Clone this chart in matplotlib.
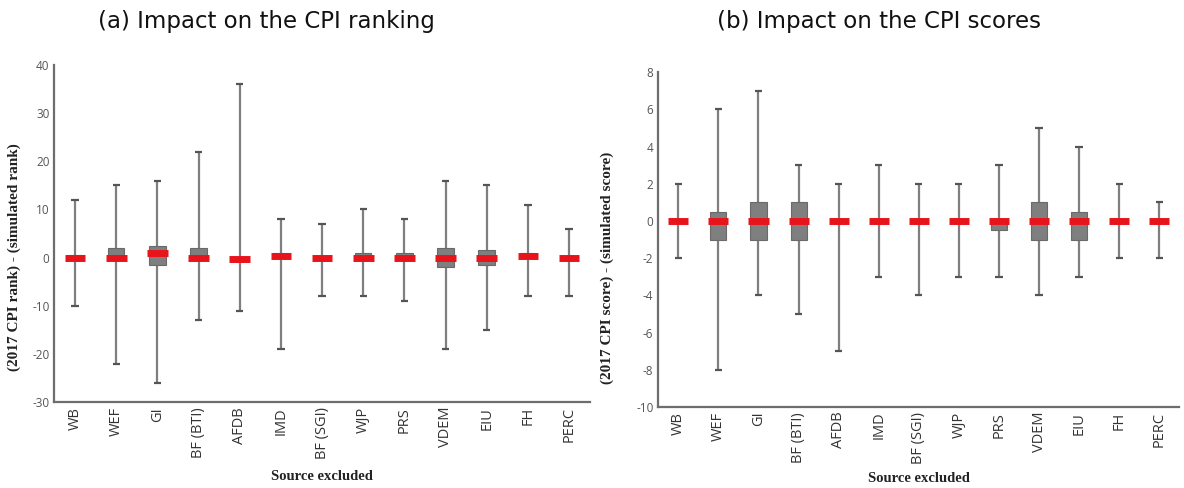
import matplotlib.pyplot as plt
import numpy as np

plt.rcParams['axes.unicode_minus'] = False

sources = ["WB", "WEF", "GI", "BF (BTI)", "AFDB", "IMD", "BF (SGI)", "WJP", "PRS", "VDEM", "EIU", "FH", "PERC"]

# (a) rank differences
rank_lo  = [-10, -22, -26, -13, -11, -19, -8, -8, -9, -19, -15, -8, -8]
rank_q1  = [-0.5, 0, -1.5, 0, -0.5, 0, -0.3, 0, 0, -2, -1.5, 0, -0.2]
rank_med = [0, 0, 1, 0, -0.2, 0.3, 0, 0, 0, 0, 0, 0.3, 0]
rank_q3  = [0.5, 2, 2.5, 2, 0, 1, 0.3, 1, 1, 2, 1.5, 1, 0.2]
rank_hi  = [12, 15, 16, 22, 36, 8, 7, 10, 8, 16, 15, 11, 6]

# (b) score differences
score_lo  = [-2, -8, -4, -5, -7, -3, -4, -3, -3, -4, -3, -2, -2]
score_q1  = [0, -1, -1, -1, 0, 0, 0, 0, -0.5, -1, -1, 0, 0]
score_med = [0, 0, 0, 0, 0, 0, 0, 0, 0, 0, 0, 0, 0]
score_q3  = [0, 0.5, 1, 1, 0, 0, 0, 0, 0, 1, 0.5, 0, 0]
score_hi  = [2, 6, 7, 3, 2, 3, 2, 2, 3, 5, 4, 2, 1]

grey = "#7f7f7f"
axcol = "#6d6d6d"


def draw_boxes(ax, lo, q1, med, q3, hi, pad):
    x = np.arange(len(sources))
    ax.vlines(x, lo, hi, color=grey, lw=1.6, zorder=1)
    ax.hlines(lo, x - 0.09, x + 0.09, color="#555555", lw=1.6, zorder=1)
    ax.hlines(hi, x - 0.09, x + 0.09, color="#555555", lw=1.6, zorder=1)
    ax.bar(x, np.array(q3) - np.array(q1), bottom=q1, width=0.4, color=grey,
           edgecolor="#6a6a6a", lw=0.8, zorder=2)
    ax.hlines(med, x - 0.25, x + 0.25, color="#e8141c", lw=5, zorder=3)
    ax.set_xlim(-0.5, len(sources) - 0.5)
    ax.set_xticks(x)
    ax.set_xticklabels(sources, rotation=90, fontsize=10.5, color="#333333", family="Open Sans")
    ax.tick_params(length=0)
    for s in ["top", "right"]:
        ax.spines[s].set_visible(False)
    for s in ["left", "bottom"]:
        ax.spines[s].set_color(axcol)
        ax.spines[s].set_linewidth(1.6)
    ax.set_xlabel("Source excluded", family="Liberation Serif", fontweight="bold",
                  fontsize=10.5, color="#222222", labelpad=pad)


def style_yticks(ax):
    for lab in ax.get_yticklabels():
        lab.set_color("#555555")
        lab.set_fontsize(8.5)
        lab.set_family("Open Sans")


fig = plt.figure(figsize=(11.84, 4.88), dpi=100)

ax1 = fig.add_axes([0.046, 0.176, 0.452, 0.691])
draw_boxes(ax1, rank_lo, rank_q1, rank_med, rank_q3, rank_hi, 8)
ax1.set_ylim(-30, 40)
ax1.set_yticks(range(-30, 41, 10))
style_yticks(ax1)
ax1.set_ylabel("(2017 CPI rank) - (simulated rank)", family="Liberation Serif",
               fontweight="bold", fontsize=11, color="#222222")
ax1.yaxis.set_label_coords(-0.062, 0.43)

ax2 = fig.add_axes([0.556, 0.166, 0.44, 0.686])
draw_boxes(ax2, score_lo, score_q1, score_med, score_q3, score_hi, 6)
ax2.set_ylim(-10, 8)
ax2.set_yticks(range(-10, 9, 2))
style_yticks(ax2)
ax2.set_ylabel("(2017 CPI score) - (simulated score)", family="Liberation Serif",
               fontweight="bold", fontsize=11, color="#222222")
ax2.yaxis.set_label_coords(-0.085, 0.415)

fig.text(0.225, 0.955, "(a) Impact on the CPI ranking", ha="center", va="center",
         fontsize=16.5, family="DejaVu Sans", color="#111111")
fig.text(0.742, 0.955, "(b) Impact on the CPI scores", ha="center", va="center",
         fontsize=16.5, family="DejaVu Sans", color="#111111")

fig.savefig("out.png", dpi=100)
